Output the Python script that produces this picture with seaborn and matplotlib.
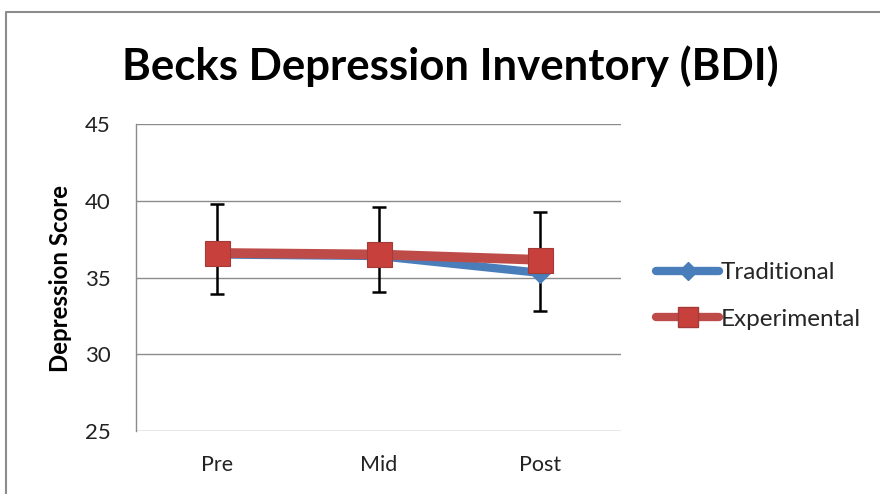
import matplotlib
matplotlib.use("Agg")
import matplotlib.pyplot as plt
import seaborn as sns
import pandas as pd
from matplotlib.lines import Line2D

categories = ["Pre", "Mid", "Post"]
traditional = [36.5, 36.4, 35.3]
experimental = [36.6, 36.5, 36.15]
err_low = [33.9, 34.05, 32.8]
err_high = [39.8, 39.6, 39.25]
yticks = [25, 30, 35, 40, 45]

sns.set_style("white")
plt.rcParams['font.family'] = ['Lato', 'DejaVu Sans']

fig = plt.figure(figsize=(8.8, 4.94), dpi=100)
ax = fig.add_axes([136/880, 1-431/494, (621-136)/880, (431-124)/494])

x = list(range(len(categories)))
df = pd.DataFrame({
    "x": x * 2,
    "score": traditional + experimental,
    "series": ["Traditional"] * 3 + ["Experimental"] * 3,
})

# error bars (behind)
mid = [(l + h) / 2 for l, h in zip(err_low, err_high)]
ax.errorbar(x, mid, yerr=[[m - l for m, l in zip(mid, err_low)], [h - m for h, m in zip(err_high, mid)]],
            fmt="none", ecolor="black", elinewidth=1.8, capsize=5, capthick=1.8, zorder=2)

blue = "#4A7EBB"
red = "#BE4B48"
sns.lineplot(data=df[df.series == "Traditional"], x="x", y="score", ax=ax, color=blue,
             linewidth=6, marker="D", markersize=10, markeredgecolor=blue, zorder=3, legend=False)
sns.lineplot(data=df[df.series == "Experimental"], x="x", y="score", ax=ax, color=red,
             linewidth=7, marker="s", markersize=18, markeredgecolor="#A33A37", markeredgewidth=0.8,
             markerfacecolor="#C8403C", zorder=4, legend=False)

ax.set_xlim(-0.5, 2.5)
ax.set_ylim(25, 45)
ax.set_yticks(yticks)
ax.set_yticklabels([str(v) for v in yticks], fontsize=16, color="#222222")
ax.set_xticks(x)
ax.set_xticklabels(categories, fontsize=15.5, color="#222222")
ax.tick_params(axis="x", length=0, pad=17)
ax.tick_params(axis="y", length=0, pad=18)
ax.grid(axis="y", color="#8C8C8C", linewidth=1)
ax.grid(axis="x", visible=False)
for s in ["top", "right", "bottom"]:
    ax.spines[s].set_visible(False)
ax.spines["left"].set_color("#8C8C8C")
ax.spines["left"].set_linewidth(1)
ax.set_xlabel("")
ax.set_ylabel("")
fig.text(60/880, 1-278/494, "Depression Score", rotation=90, ha="center", va="center",
         fontsize=17.3, fontweight="bold", color="black")

fig.text(450/880, 1-66/494, "Becks Depression Inventory (BDI)", ha="center", va="center",
         fontsize=31.5, fontweight="bold", color="black")

handles = [
    Line2D([], [], color=blue, linewidth=6, marker="D", markersize=9, markeredgecolor=blue),
    Line2D([], [], color=red, linewidth=6, marker="s", markersize=14, markerfacecolor="#C8403C",
           markeredgecolor="#A33A37"),
]
fig.legend(handles, ["Traditional", "Experimental"], loc="center left",
           bbox_to_anchor=(656/880, 1-296/494), frameon=False, fontsize=17.5,
           handlelength=2.6, handletextpad=0.05, labelspacing=1.05, borderaxespad=0,
           borderpad=0)

# outer chart border (left and top edges of the chart area)
fig.add_artist(Line2D([6/880, 6/880, 1.05], [-0.05, 1-12/494, 1-12/494], color="#8C8C8C",
                      linewidth=1.5, transform=fig.transFigure))

fig.savefig("out.png", dpi=100)
